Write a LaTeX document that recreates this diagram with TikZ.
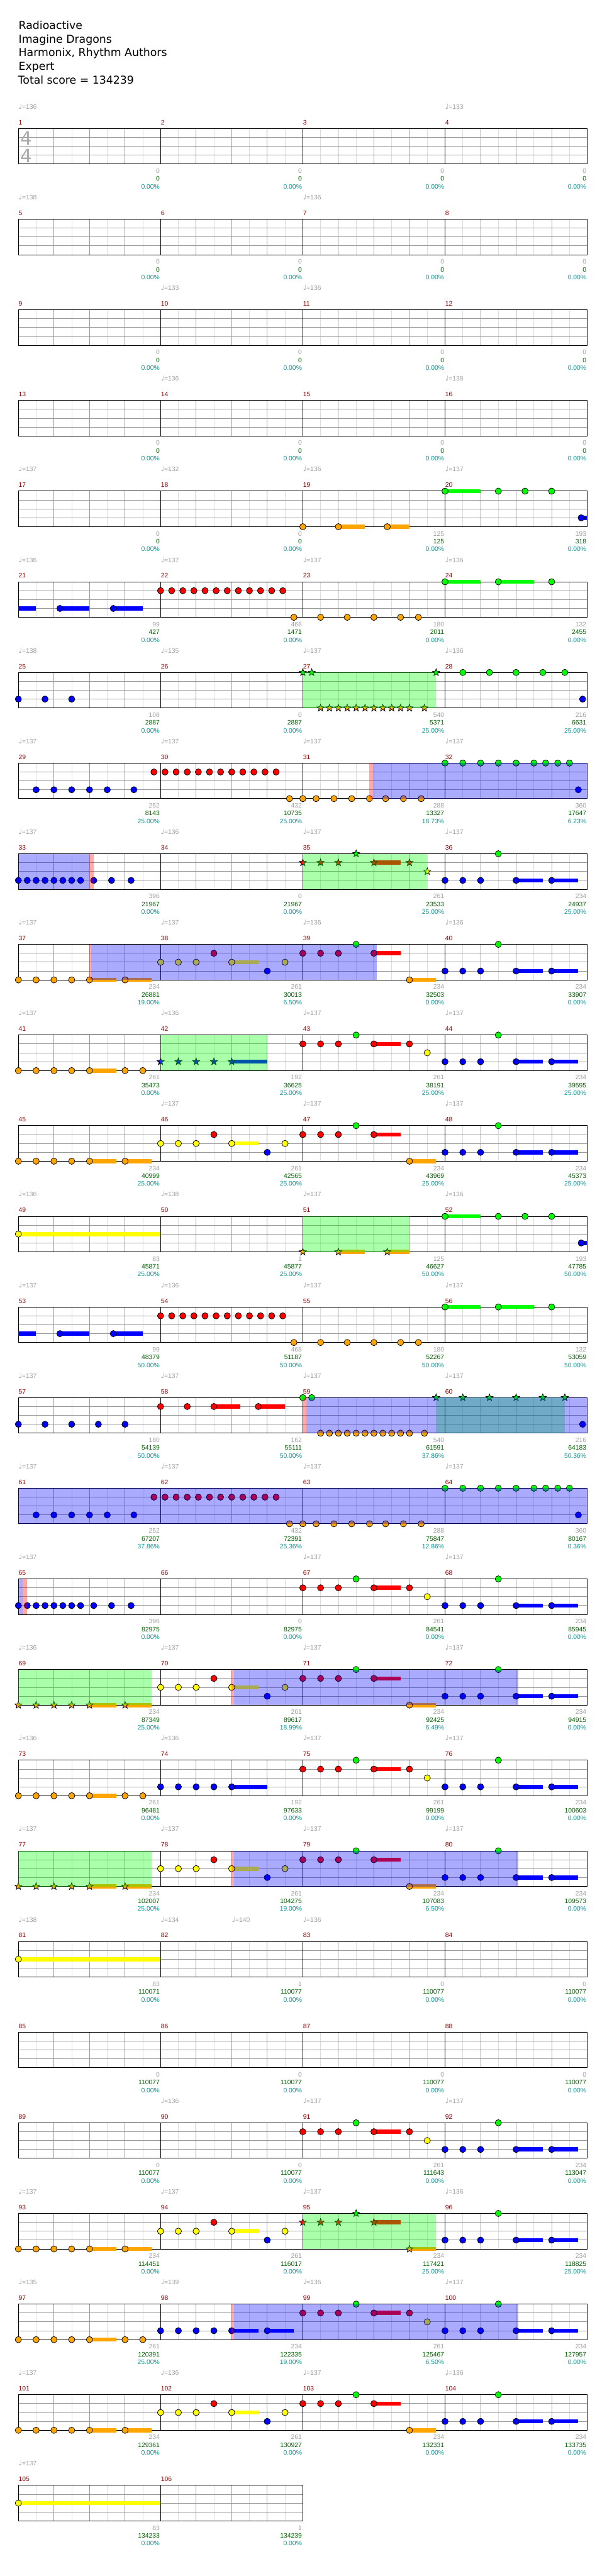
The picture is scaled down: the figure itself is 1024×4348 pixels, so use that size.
\documentclass[tikz,border=0pt]{standalone}
\usepackage{fontspec}
\setmainfont{Liberation Sans}
\newfontfamily\dejavu{DejaVu Sans}

% lane colours: 0 green (top) ... 4 orange (bottom)
\definecolor{lane0}{RGB}{0,255,0}
\definecolor{lane1}{RGB}{255,0,0}
\definecolor{lane2}{RGB}{255,255,0}
\definecolor{lane3}{RGB}{0,0,255}
\definecolor{lane4}{RGB}{255,165,0}
\definecolor{gridgray}{RGB}{153,153,153}
\definecolor{halfgray}{RGB}{221,221,221}
\definecolor{tempogray}{RGB}{160,160,160}
\definecolor{sigray}{RGB}{170,170,170}
\definecolor{barred}{RGB}{139,0,0}
\definecolor{ptgray}{RGB}{160,160,160}
\definecolor{ptgreen}{RGB}{0,100,0}
\definecolor{ptteal}{RGB}{0,153,153}

% --- Helpers (row, beat from row start, lane) ---
\newcommand{\gem}[3]{%
  \filldraw[gemline, fill=lane#3] ({31+60*(#2)},{217+153*(#1-1)+15*(#3)}) circle (5.3pt);}
\newcommand{\stargem}[3]{%
  \filldraw[gemline, fill=lane#3, shift={({31+60*(#2)},{217+153*(#1-1)+15*(#3)})}]
    (90:6.3pt) -- (126:2.6pt) -- (162:6.3pt) -- (198:2.6pt) -- (234:6.3pt) -- (270:2.6pt)
    -- (306:6.3pt) -- (342:2.6pt) -- (18:6.3pt) -- (54:2.6pt) -- cycle;}
\newcommand{\tail}[4]{%
  \fill[lane#3] ({31+60*(#2)},{217+153*(#1-1)+15*(#3)-3.5}) rectangle ({31+60*(#4)},{217+153*(#1-1)+15*(#3)+3.5});}
\newcommand{\zone}[4]{% row, from, to, style
  \fill[#4] ({31+60*(#2)},{217+153*(#1-1)}) rectangle ({31+60*(#3)},{217+153*(#1-1)+60});}
\newcommand{\gemrow}[2]{\edef\gemlist{#2}\foreach \b/\l in \gemlist {\gem{#1}{\b}{\l}}}
\newcommand{\starrow}[2]{\edef\gemlist{#2}\foreach \b/\l in \gemlist {\stargem{#1}{\b}{\l}}}
\newcommand{\tailrow}[2]{\edef\taillist{#2}\foreach \b/\l/\e in \taillist {\tail{#1}{\b}{\l}{\e}}}

% --- Staff: row, number of bars ---
\newcommand{\staff}[2]{%
  \pgfmathsetmacro{\ytop}{217+153*(#1-1)}
  \pgfmathtruncatemacro{\nhalf}{8*#2}
  \pgfmathtruncatemacro{\nbeat}{4*#2-1}
  \foreach \h in {1,3,...,\nhalf} {\draw[halfline] ({31+30*\h},\ytop) -- ++(0,60);}
  \foreach \k in {1,...,\nbeat} {\draw[beatline] ({31+60*\k},\ytop) -- ++(0,60);}
  \foreach \k in {1,2,3} {\draw[beatline] (31,{\ytop+15*\k}) -- ({31+240*#2},{\ytop+15*\k});}
  \foreach \k in {1,...,#2} {\draw[barline] ({31+240*\k},\ytop) -- ++(0,60);}
  \draw[barline] (31,\ytop) rectangle ({31+240*#2},{\ytop+60});
}

% --- Score lines under a bar ---
\newcommand{\barscore}[4]{%
  \pgfmathtruncatemacro{\rr}{div(#1-1,4)}
  \pgfmathtruncatemacro{\ss}{mod(#1-1,4)+1}
  \pgfmathsetmacro{\xe}{30+240*\ss}
  \pgfmathsetmacro{\yb}{217+153*\rr+60}
  \node[ptsraw] (pts#1) at (\xe,\yb+15.5) {#2};
  \node[ptstot] (tot#1) at (\xe,\yb+28.7) {#3};
  \node[ptspct] (pct#1) at (\xe,\yb+41.8) {#4\%};
}

% --- Recurring bar contents (beats from row start) ---
\def\orangeRun{0/4,0.5/4,1/4,1.5/4,2/4,3/4}
\def\yellowRun{4/2,4.5/2,5/2,6/2,7.5/2,5.5/1,7/3}
\def\blueRun{4/3,4.5/3,5/3,5.5/3,6/3}
\def\redRun{8/1,8.5/1,9/1,10/1,9.5/0}
\def\lastRun{12/3,12.5/3,13/3,14/3,15/3,13.5/0}
\def\lastTails{14/3/14.75,15/3/15.75}
\def\blueFill{0/3,0.25/3,0.5/3,0.75/3,1/3,1.25/3,1.5/3,1.75/3,2.12/3,2.62/3,3.17/3}

\begin{document}
\begin{tikzpicture}[x=1pt, y=-1pt, line width=1pt,
  halfline/.style={draw=halfgray},
  beatline/.style={draw=gridgray},
  barline/.style={draw=black},
  gemline/.style={draw=black, line width=0.8pt},
  headline/.style={anchor=base west, inner sep=0pt, font=\dejavu\fontsize{18.4}{22}\selectfont},
  tsig/.style={anchor=base, inner sep=0pt, text=sigray, font=\dejavu\fontsize{31}{31}\selectfont},
  tempo/.style={anchor=base west, inner sep=0pt, text=tempogray, font=\fontsize{11}{13}\selectfont},
  barnum/.style={anchor=base west, inner sep=0pt, text=barred, font=\fontsize{11}{13}\selectfont},
  ptsraw/.style={anchor=base east, inner sep=0pt, text=ptgray, font=\fontsize{11}{13}\selectfont},
  ptstot/.style={anchor=base east, inner sep=0pt, text=ptgreen, font=\fontsize{11}{13}\selectfont},
  ptspct/.style={anchor=base east, inner sep=0pt, text=ptteal, font=\fontsize{11}{13}\selectfont},
  spzone/.style={fill=lane0, opacity=0.333},
  unizone/.style={fill=lane1, opacity=0.333},
  odzone/.style={fill=lane3, opacity=0.333}]

\useasboundingbox (0,0) rectangle (1024,4348);
\fill[white] (0,0) rectangle (1024,4348);

% --- Header ---
\node[headline] (title) at (31,49) {Radioactive};
\node[headline] (artist) at (31,72.2) {Imagine Dragons};
\node[headline] (charter) at (31,95.4) {Harmonix, Rhythm Authors};
\node[headline] (level) at (31,118.6) {Expert};
\node[headline] (total) at (30,141.8) {Total score = 134239};

% --- Staves ---
\foreach \r in {1,...,26} {\staff{\r}{4}}
\staff{27}{2}
\node[tsig] (sigtop) at (44,245) {4};
\node[tsig] (sigbot) at (44,274) {4};

% --- Bar numbers ---
\foreach \m in {1,...,106} {
  \pgfmathtruncatemacro{\rr}{div(\m-1,4)}
  \pgfmathtruncatemacro{\ss}{mod(\m-1,4)}
  \node[barnum] (bar\m) at ({31+240*\ss},{217+153*\rr-6.5}) {\m};
}

% --- Tempo marks: row/beat/bpm ---
\foreach \r/\b/\v in {1/0/136, 1/12/133, 2/0/138, 2/8/136, 3/4/133, 3/8/136, 4/4/136, 4/12/138,
    5/0/137, 5/4/132, 5/8/136, 5/12/137, 6/0/136, 6/4/137, 6/8/137, 6/12/136,
    7/0/138, 7/4/135, 7/8/137, 7/12/136, 8/0/137, 8/4/137, 8/8/137, 8/12/137,
    9/0/137, 9/4/136, 9/8/137, 9/12/137, 10/0/137, 10/4/137, 10/8/136, 10/12/136,
    11/0/137, 11/4/136, 11/8/137, 11/12/137, 12/4/137, 12/8/137, 12/12/137,
    13/0/136, 13/4/138, 13/8/137, 13/12/136, 14/0/137, 14/4/136, 14/8/137, 14/12/137,
    15/0/137, 15/4/137, 15/8/137, 15/12/137, 16/0/137, 16/4/137, 16/8/137, 16/12/137,
    17/0/137, 17/8/137, 17/12/137, 18/0/136, 18/4/137, 18/8/137, 18/12/137,
    19/0/136, 19/4/136, 19/8/137, 19/12/137, 20/0/137, 20/4/137, 20/8/137, 20/12/137,
    21/0/138, 21/4/134, 21/6/140, 21/8/136, 23/4/136, 23/8/137, 23/12/137,
    24/0/137, 24/4/137, 24/8/137, 24/12/136, 25/0/135, 25/4/139, 25/8/136, 25/12/137,
    26/0/137, 26/4/136, 26/8/137, 26/12/136, 27/0/137} {
  \node[tempo] (tempo\r-\b) at ({31+60*\b},{217+153*(\r-1)-33}) {{\dejavu\fontsize{12}{12}\selectfont ♩}=\v};
}

% --- Scores: bar/points/total/percent ---
\foreach \m in {1,...,18} {\barscore{\m}{0}{0}{0.00}}
\foreach \m/\p/\t/\c in {19/125/125/0.00, 20/193/318/0.00, 21/99/427/0.00, 22/468/1471/0.00,
    23/180/2011/0.00, 24/132/2455/0.00, 25/108/2887/0.00, 26/0/2887/0.00,
    27/540/5371/25.00, 28/216/6631/25.00, 29/252/8143/25.00, 30/432/10735/25.00,
    31/288/13327/18.73, 32/360/17647/6.23, 33/396/21967/0.00, 34/0/21967/0.00,
    35/261/23533/25.00, 36/234/24937/25.00, 37/234/26881/19.00, 38/261/30013/6.50,
    39/234/32503/0.00, 40/234/33907/0.00, 41/261/35473/0.00, 42/192/36625/25.00,
    43/261/38191/25.00, 44/234/39595/25.00, 45/234/40999/25.00, 46/261/42565/25.00,
    47/234/43969/25.00, 48/234/45373/25.00, 49/83/45871/25.00, 50/1/45877/25.00,
    51/125/46627/50.00, 52/193/47785/50.00, 53/99/48379/50.00, 54/468/51187/50.00,
    55/180/52267/50.00, 56/132/53059/50.00, 57/180/54139/50.00, 58/162/55111/50.00,
    59/540/61591/37.86, 60/216/64183/50.36, 61/252/67207/37.86, 62/432/72391/25.36,
    63/288/75847/12.86, 64/360/80167/0.36, 65/396/82975/0.00, 66/0/82975/0.00,
    67/261/84541/0.00, 68/234/85945/0.00, 69/234/87349/25.00, 70/261/89617/18.99,
    71/234/92425/6.49, 72/234/94915/0.00, 73/261/96481/0.00, 74/192/97633/0.00,
    75/261/99199/0.00, 76/234/100603/0.00, 77/234/102007/25.00, 78/261/104275/19.00,
    79/234/107083/6.50, 80/234/109573/0.00, 81/83/110071/0.00, 82/1/110077/0.00,
    83/0/110077/0.00, 84/0/110077/0.00, 85/0/110077/0.00, 86/0/110077/0.00,
    87/0/110077/0.00, 88/0/110077/0.00, 89/0/110077/0.00, 90/0/110077/0.00,
    91/261/111643/0.00, 92/234/113047/0.00, 93/234/114451/0.00, 94/261/116017/0.00,
    95/234/117421/25.00, 96/234/118825/25.00, 97/261/120391/25.00, 98/234/122335/19.00,
    99/261/125467/6.50, 100/234/127957/0.00, 101/234/129361/0.00, 102/261/130927/0.00,
    103/234/132331/0.00, 104/234/133735/0.00, 105/83/134233/0.00, 106/1/134239/0.00} {
  \barscore{\m}{\p}{\t}{\c}
}

% --- Notes ---
% row 5: bars 17-20
\tailrow{5}{9/4/9.75,10.375/4/11,12/0/13,15.83/3/16}
\gemrow{5}{8/4,9/4,10.375/4,12/0,13.5/0,14.25/0,15/0,15.83/3}

% rows 6 and 14
\foreach \r in {6,14} {
  \tailrow{\r}{0/3/0.5,1.17/3/2,2.67/3/3.5,12/0/13,13.5/0/14.5}
  \gemrow{\r}{1.17/3,2.67/3,7.75/4,8.5/4,9.25/4,10/4,10.75/4,11.25/4,12/0,13.5/0,15/0}
  \foreach \k in {0,...,11} {\gem{\r}{4+0.3125*\k}{1}}
}

% row 7
\gemrow{7}{0/3,0.75/3,1.5/3,12.5/0,13.25/0,14/0,14.75/0,15.37/0,15.87/3}
\starrow{7}{8/0,8.25/0,11.75/0,11/4,11.42/4}
\foreach \k in {0,...,9} {\stargem{7}{8.5+0.25*\k}{4}}

% rows 8 and 16
\foreach \r in {8,16} {
  \gemrow{\r}{0.5/3,1/3,1.5/3,2/3,2.5/3,3.25/3,7.625/4,8/4,8.375/4,8.875/4,9.375/4,9.875/4,10.33/4,10.83/4,11.33/4,
    12/0,12.5/0,13/0,13.5/0,14/0,14.5/0,14.83/0,15.17/0,15.5/0,15.75/3}
  \foreach \k in {0,...,11} {\gem{\r}{3.8125+0.3125*\k}{1}}
}

% row 9
\tailrow{9}{10/1/10.75,\lastTails}
\gemrow{9}{\blueFill,\lastRun}
\starrow{9}{\redRun,11/1,11.5/2}

% rows 10, 12, 26
\foreach \r in {10,12,26} {
  \tailrow{\r}{2/4/2.75,3/4/3.75,6/2/6.75,10/1/10.75,11/4/11.75,\lastTails}
  \gemrow{\r}{\orangeRun,\yellowRun,\redRun,11/4,\lastRun}
}

% rows 11 and 19
\tailrow{11}{2/4/2.75,6/3/7,10/1/10.75,\lastTails}
\gemrow{11}{\orangeRun,3.5/4,\redRun,11/1,11.5/2,\lastRun}
\starrow{11}{\blueRun}
\tailrow{19}{2/4/2.75,6/3/7,10/1/10.75,\lastTails}
\gemrow{19}{\orangeRun,3.5/4,\blueRun,\redRun,11/1,11.5/2,\lastRun}

% row 13
\tailrow{13}{0/2/4,9/4/9.75,10.375/4/11,12/0/13,15.83/3/16}
\gemrow{13}{0/2,12/0,13.5/0,14.25/0,15/0,15.83/3}
\starrow{13}{8/4,9/4,10.375/4}

% row 15
\tailrow{15}{5.5/1/6.25,6.75/1/7.5}
\gemrow{15}{0/3,0.75/3,1.5/3,2.25/3,3/3,4/1,4.75/1,5.5/1,6.75/1,8/0,8.25/0,11/4,11.42/4,15.87/3}
\foreach \k in {0,...,9} {\gem{15}{8.5+0.25*\k}{4}}
\starrow{15}{11.75/0,12.5/0,13.25/0,14/0,14.75/0,15.37/0}

% row 17
\tailrow{17}{10/1/10.75,\lastTails}
\gemrow{17}{\blueFill,\redRun,11/1,11.5/2,\lastRun}

% rows 18 and 20
\foreach \r in {18,20} {
  \tailrow{\r}{2/4/2.75,3/4/3.75,6/2/6.75,10/1/10.75,11/4/11.75,\lastTails}
  \starrow{\r}{\orangeRun}
  \gemrow{\r}{\yellowRun,\redRun,11/4,\lastRun}
}

% rows 21 and 27: long yellow
\foreach \r in {21,27} {\tail{\r}{0}{2}{4} \gem{\r}{0}{2}}

% row 23
\tailrow{23}{10/1/10.75,\lastTails}
\gemrow{23}{\redRun,11/1,11.5/2,\lastRun}

% row 24
\tailrow{24}{2/4/2.75,3/4/3.75,6/2/6.75,10/1/10.75,11/4/11.75,\lastTails}
\gemrow{24}{\orangeRun,\yellowRun,\lastRun}
\starrow{24}{\redRun,11/4}

% row 25
\tailrow{25}{2/4/2.75,6/3/6.75,7/3/7.75,10/1/10.75,\lastTails}
\gemrow{25}{\orangeRun,3.5/4,\blueRun,7/3,\redRun,11/1,11.5/2,\lastRun}

% --- Star power, unison and overdrive zones ---
\foreach \r/\f/\t in {7/8/11.75, 9/8/11.5, 11/4/7, 13/8/11, 15/11.75/15.37, 18/0/3.75, 20/0/3.75, 24/8/11.75}
  {\zone{\r}{\f}{\t}{spzone}}
\foreach \r/\f/\t in {8/9.87/10, 9/2/2.12, 10/2/2.04, 15/8/8.1, 17/0.12/0.24, 18/6/6.06, 20/6/6.06, 25/6/6.06}
  {\zone{\r}{\f}{\t}{unizone}}
\foreach \r/\f/\t in {8/10/16, 9/0/2, 10/2.04/10.08, 15/8.1/16, 16/0/16, 17/0/0.12, 18/6.06/14.06, 20/6.06/14.06, 25/6.06/14.06}
  {\zone{\r}{\f}{\t}{odzone}}

\end{tikzpicture}
\end{document}
